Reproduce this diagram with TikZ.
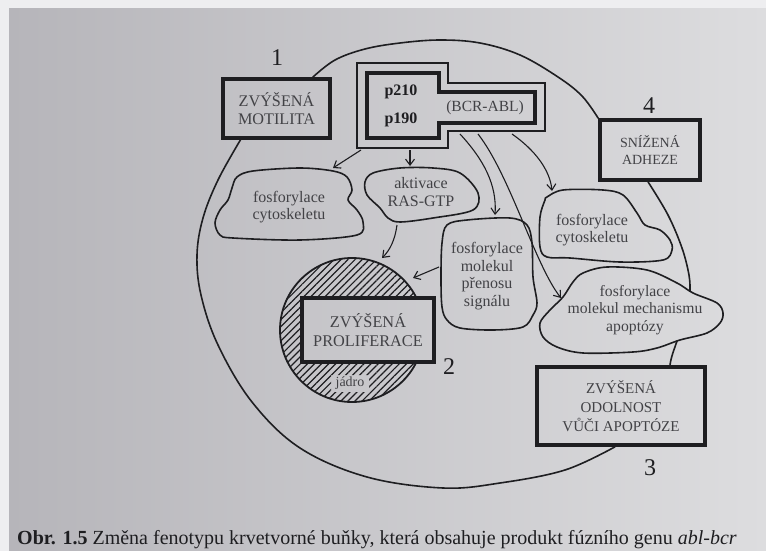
\documentclass[tikz,border=0pt]{standalone}
\usepackage{fontspec}
\setmainfont{Liberation Serif}
\usetikzlibrary{arrows.meta,patterns.meta}

\definecolor{paperL}{RGB}{182,181,186}
\definecolor{paperM}{RGB}{206,206,209}
\definecolor{paperR}{RGB}{221,221,223}
\definecolor{paperEdge}{RGB}{238,238,240}
\definecolor{ink}{RGB}{30,30,33}
\definecolor{txt}{RGB}{66,66,70}

\tikzset{
  phenobox/.style={draw=ink, line width=3.6pt, text=txt, align=center, inner sep=0pt},
  boxfont/.style={font=\fontsize{#1}{18.5}\selectfont},
  cell/.style={draw=ink, line width=1.6pt, line cap=round},
  blob/.style={draw=ink, line width=1.6pt, line join=round},
  blobtext/.style={text=txt, align=center, font=\fontsize{16}{17.8}\selectfont},
  link/.style={draw=ink, line width=1.1pt, -{Straight Barb[length=6pt,width=9pt]}},
  num/.style={text=ink, font=\fontsize{24}{24}\selectfont},
}

\begin{document}
\begin{tikzpicture}[x=1pt,y=-1pt]
\useasboundingbox (0,0) rectangle (766,551);
\fill[paperEdge] (0,0) rectangle (766,551);
\shade[left color=paperL, middle color=paperM, right color=paperR] (9,9) rectangle (766,551);

% phenotype boxes
\node[phenobox, boxfont=16.2, minimum width=107pt, minimum height=59pt] (mot) at (276.5,108.5) {ZVÝŠENÁ\\MOTILITA};
\node[phenobox, boxfont=16.3, minimum width=132pt, minimum height=64pt] (pro) at (368,330) {ZVÝŠENÁ\\PROLIFERACE};
\node[phenobox, font=\fontsize{15}{19}\selectfont, minimum width=168pt, minimum height=78pt] (odo) at (621,406) {ZVÝŠENÁ\\ODOLNOST\\VŮČI APOPTÓZE};
\node[phenobox, font=\fontsize{14}{17.5}\selectfont, minimum width=100pt, minimum height=60pt] (adh) at (650,150) {SNÍŽENÁ\\ADHEZE};

\node[num] (n1) at (277,58) {1};
\node[num] (n2) at (449,367) {2};
\node[num] (n3) at (650,468) {3};
\node[num] (n4) at (649,106) {4};

% nucleus with hatching, kept out of the proliferation box
\node[circle, minimum size=144pt, inner sep=0pt] (nuc) at (352,330) {};
\begin{scope}[even odd rule]
  \clip (0,0) rectangle (766,551) (pro.south west) rectangle (pro.north east);
  \fill[pattern={Lines[angle=45,distance=5pt,line width=1.2pt]}, pattern color=ink]
    (nuc.center) circle (72pt) (331,375) rectangle (369,392);
  \draw[ink, line width=1.8pt] (nuc.center) circle (72pt);
\end{scope}
\node[text=txt, font=\fontsize{14}{14}\selectfont] (jad) at (350,383) {jádro};

% fusion protein
\draw[ink, line width=1.3pt] (357,63) -- (448,63) -- (448,83) -- (545,83) -- (545,131) -- (448,131) -- (448,148) -- (357,148) -- cycle;
\draw[ink, line width=3.8pt] (367,73) -- (439,73) -- (439,92) -- (535,92) -- (535,123) -- (439,123) -- (439,138) -- (367,138) -- cycle;
\node[text=ink, font=\fontsize{16}{16}\selectfont\bfseries] (p210) at (401,92) {p210};
\node[text=ink, font=\fontsize{16}{16}\selectfont\bfseries] (p190) at (401,120) {p190};
\node[text=txt, font=\fontsize{15.5}{16}\selectfont] (bcr) at (485,108) {(BCR-ABL)};
\coordinate (f1) at (361,150);
\coordinate (f2) at (410,150);
\coordinate (f3) at (460,134);
\coordinate (f4) at (478,134);
\coordinate (f5) at (512,134);

% signalling blobs
\draw[blob] plot[smooth cycle, tension=0.55] coordinates {(237,177) (253,171) (300,168) (333,171) (347,177) (352,190) (348,200) (357,210) (363,222) (357,235) (300,240) (233,238) (220,235) (215,223) (220,210) (228,200) (232,188)};
\node[blobtext] (tA) at (289,207) {fosforylace\\cytoskeletu};

\draw[blob] plot[smooth cycle, tension=0.55] coordinates {(373,173) (400,168) (433,168) (460,173) (478,193) (473,210) (433,218) (400,222) (388,218) (380,208) (367,195) (365,182)};
\node[blobtext] (tB) at (421,192) {aktivace\\RAS-GTP};

\draw[blob] plot[smooth cycle, tension=0.55] coordinates {(447,225) (467,220) (510,218) (527,225) (532,243) (533,277) (537,303) (533,315) (523,327) (493,330) (460,328) (447,320) (442,307) (441,277) (442,243)};
\node[blobtext] (tC) at (487,276) {fosforylace\\molekul\\přenosu\\signálu};

\draw[blob] plot[smooth cycle, tension=0.55] coordinates {(547,197) (563,190) (603,190) (623,195) (637,213) (645,225) (660,230) (670,240) (672,250) (663,260) (620,262) (570,258) (547,257) (540,247) (540,217) (545,200)};
\node[blobtext] (tD) at (592,230) {fosforylace\\cytoskeletu};

\draw[blob] plot[smooth cycle, tension=0.55] coordinates {(583,273) (607,267) (647,270) (677,283) (693,293) (717,303) (723,313) (720,323) (707,333) (680,340) (657,348) (633,352) (583,353) (557,347) (543,337) (540,323) (550,310) (563,297) (573,282)};
\node[blobtext, font=\fontsize{15.7}{17.8}\selectfont] (tE) at (635,310) {fosforylace\\molekul mechanismu\\apoptózy};

% arrow ends
\coordinate (eA) at (333,168);
\coordinate (eB) at (410,166);
\coordinate (eC) at (495,215);
\coordinate (eD) at (552,191);
\coordinate (eE) at (561,298);
\coordinate (sB) at (397,225);
\coordinate (eN) at (382,258);
\coordinate (sC) at (439,267);
\coordinate (eN2) at (413,278);

\draw[link] (f1) -- (eA);
\draw[link] (f2) -- (eB);
\draw[link] (f3) .. controls (484,160) and (497,185) .. (eC);
\draw[link] (f4) .. controls (510,175) and (535,265) .. (eE);
\draw[link] (f5) .. controls (535,150) and (550,170) .. (eD);
\draw[link] (sB) .. controls (395,240) and (390,250) .. (eN);
\draw[link] (sC) -- (eN2);

% cell membrane, running between the phenotype boxes
\coordinate (m1) at ([xshift=-19pt]mot.north east);
\coordinate (m4) at (adh.north west);
\coordinate (m5) at ([xshift=-2pt]adh.south);
\coordinate (m6) at (690,291);
\coordinate (m7) at (677,341);
\coordinate (m8) at ([xshift=49pt]odo.north);
\coordinate (m9) at ([xshift=-6pt]odo.south);
\coordinate (m10) at ([xshift=-36pt]mot.south);
\draw[cell] plot[smooth, tension=0.6] coordinates {(m1) (335,60) (365,49) (400,43) (440,40) (480,43) (520,55) (558,77) (582,96) (m4)};
\draw[cell] plot[smooth, tension=0.6] coordinates {(m5) (668,215) (682,248) (689,275) (m6)};
\draw[cell] (m7) .. controls (674,350) and (671,357) .. (m8);
\draw[cell] plot[smooth, tension=0.6] coordinates {(m9) (565,470) (500,483) (443,488) (367,477) (300,448) (252,402) (218,345) (201,295) (197,255) (203,218) (218,180) (m10)};

% caption
\node[anchor=west, text=ink, inner sep=0pt, font=\fontsize{20}{20}\selectfont] (cap) at (17,540)
  {\textbf{Obr. 1.5} Změna fenotypu krvetvorné buňky, která obsahuje produkt fúzního genu \textit{abl-bcr}};
\end{tikzpicture}
\end{document}
